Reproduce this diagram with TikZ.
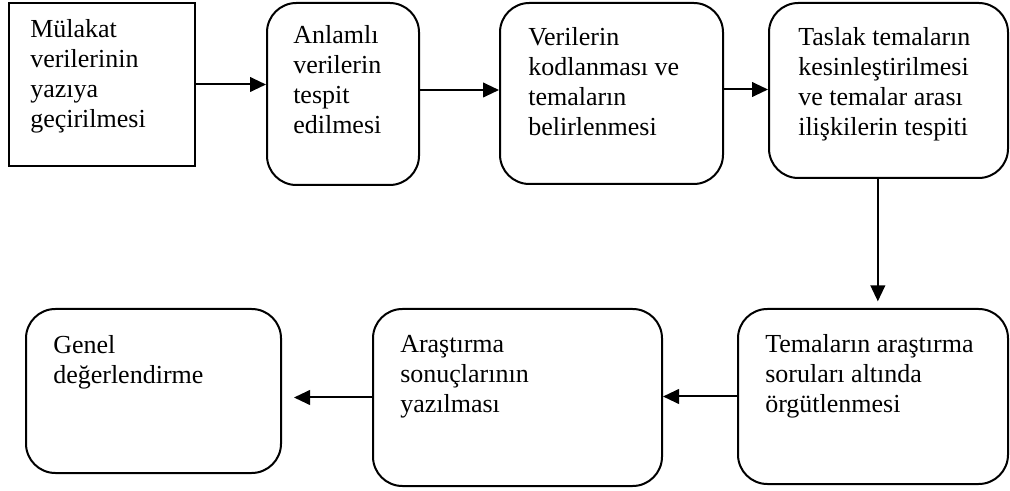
\documentclass[tikz,border=0pt]{standalone}
\usepackage{fontspec}
\setmainfont{Liberation Serif}
\usetikzlibrary{arrows.meta,positioning}

\tikzset{
  stage/.style={draw,line width=1.5pt,rounded corners=22pt,inner sep=0pt},
  stagetext/.style={anchor=north west,align=left,inner sep=0pt,font=\fontsize{19.5}{22.5}\selectfont},
  flow/.style={-{Triangle[length=12pt,width=11pt]},line width=1.5pt}
}

\begin{document}
\begin{tikzpicture}[x=0.75pt,y=-0.75pt]
    \useasboundingbox (0,0) rectangle (1010,491);
    % upper row
    \node[stage,sharp corners,minimum width=139.5pt,minimum height=122.25pt] (mulakat) at (102,84.5) {};
    \node[stage,minimum width=114pt,minimum height=136.5pt] (anlamli) at (343,94) {};
    \node[stage,minimum width=167.25pt,minimum height=135.75pt] (kodlama) at (611.5,93.5) {};
    \node[stage,minimum width=179.25pt,minimum height=131.25pt] (taslak) at (888.5,90.5) {};
    % lower row
    \node[stage,minimum width=202.5pt,minimum height=131.25pt] (orgut) at (873,396.5) {};
    \node[stage,minimum width=216.75pt,minimum height=132.75pt] (sonuc) at (517.5,397.5) {};
    \node[stage,minimum width=191.25pt,minimum height=123pt] (genel) at (153.5,391) {};
    % texts
    \node[stagetext] (mulakat-t) at (30,19) {Mülakat\\verilerinin\\yazıya\\geçirilmesi};
    \node[stagetext] (anlamli-t) at (293,25) {Anlamlı\\verilerin\\tespit\\edilmesi};
    \node[stagetext] (kodlama-t) at (528,27) {Verilerin\\kodlanması ve\\temaların\\belirlenmesi};
    \node[stagetext] (taslak-t) at (798,27) {Taslak temaların\\kesinleştirilmesi\\ve temalar arası\\ilişkilerin tespiti};
    \node[stagetext] (orgut-t) at (765,334) {Temaların araştırma\\soruları altında\\örgütlenmesi};
    \node[stagetext] (sonuc-t) at (400,335) {Araştırma\\sonuçlarının\\yazılması};
    \node[stagetext] (genel-t) at (53,335) {Genel\\değerlendirme};
    % connectors
    \draw[flow] (mulakat.east) -- (mulakat.east -| anlamli.west);
    \draw[flow] ([yshift=3pt]anlamli.east) -- ([yshift=3pt]anlamli.east -| kodlama.west);
    \draw[flow] ([yshift=3pt]kodlama.east) -- ([yshift=3pt]kodlama.east -| taslak.west);
    \draw[flow,shorten >=5pt] ([xshift=-8pt]taslak.south) -- ([xshift=-8pt]taslak.south |- orgut.north);
    \draw[flow] (orgut.west) -- (orgut.west -| sonuc.east);
    \draw[flow,shorten >=9pt] (sonuc.west) -- (sonuc.west -| genel.east);
\end{tikzpicture}
\end{document}
